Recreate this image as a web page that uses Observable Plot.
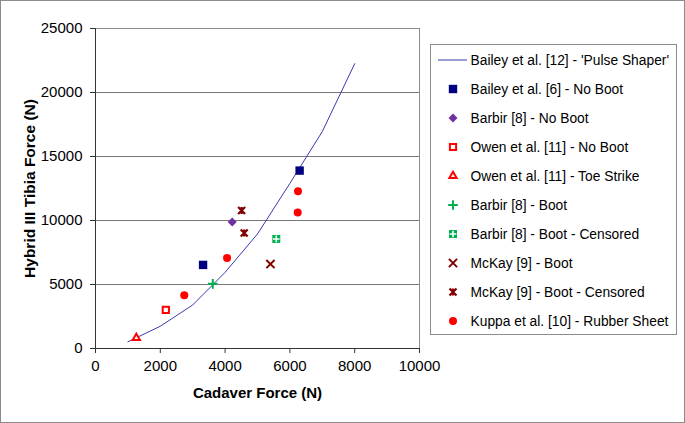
<!DOCTYPE html>
<html>
<head>
<meta charset="utf-8">
<script src="https://cdn.jsdelivr.net/npm/d3@7"></script>
<script src="https://cdn.jsdelivr.net/npm/@observablehq/plot@0.6"></script>
<style>
  html, body { margin: 0; padding: 0; background: #fff; }
  #wrap { position: relative; width: 685px; height: 423px; overflow: hidden; font-family: "Liberation Sans", Arial, sans-serif; }
  #frame { position: absolute; left: 0; top: 0; width: 683px; height: 421px; border: 1px solid #8c8c8c; pointer-events: none; }
  #legend { position: absolute; left: 0; top: 0; }
</style>
</head>
<body>
<div id="wrap"><div id="chart"></div><svg id="legend" width="685" height="423"></svg><div id="frame"></div></div>
<script>
// ---- data ----
const xTicks = [0, 2000, 4000, 6000, 8000, 10000];
const yTicks = [0, 5000, 10000, 15000, 20000, 25000];

const pulseX = [1000, 2000, 3000, 4000, 5000, 6000, 7000, 8000];
const pulseY = [520, 1740, 3400, 5950, 8950, 12900, 16950, 22250];

const baileyNoBootX = [3320, 6300];
const baileyNoBootY = [6530, 13900];
const barbirNoBootX = [4220];
const barbirNoBootY = [9880];
const owenNoBootX = [2170];
const owenNoBootY = [3020];
const owenToeX = [1260];
const owenToeY = [830];
const barbirBootX = [3620];
const barbirBootY = [5050];
const barbirBootCensX = [5580];
const barbirBootCensY = [8560];
const mckayBootX = [5400];
const mckayBootY = [6600];
const mckayBootCensX = [4510, 4590];
const mckayBootCensY = [10780, 9030];
const kuppaX = [2740, 4060, 6250, 6240];
const kuppaY = [4160, 7080, 12290, 10630];

const seriesNames = [
  "Bailey et al. [12] - 'Pulse Shaper'",
  "Bailey et al. [6] - No Boot",
  "Barbir [8] - No Boot",
  "Owen et al. [11] - No Boot",
  "Owen et al. [11] - Toe Strike",
  "Barbir [8] - Boot",
  "Barbir [8] - Boot - Censored",
  "McKay [9] - Boot",
  "McKay [9] - Boot - Censored",
  "Kuppa et al. [10] - Rubber Sheet"
];

// ---- styles ----
const LINE = "#3a3ab0", NAVY = "#000080", PURPLE = "#7030a0", RED = "#ff0000", GREEN = "#00b050", DRED = "#800000";

const zip = (xs, ys) => xs.map((x, i) => ({x, y: ys[i]}));

const starX = {
  draw(ctx, size) {
    const r = Math.sqrt(size) / 2;
    ctx.moveTo(-r, -r); ctx.lineTo(r, r);
    ctx.moveTo(-r, r); ctx.lineTo(r, -r);
    ctx.moveTo(0, -r); ctx.lineTo(0, r);
  }
};
const squareDiamond = {
  draw(ctx, size) {
    const h = Math.sqrt(size / 2);
    ctx.moveTo(0, -h); ctx.lineTo(h, 0); ctx.lineTo(0, h); ctx.lineTo(-h, 0); ctx.closePath();
  }
};

// plot symbol area = PI r^2
const rFor = (side) => Math.sqrt(side * side / Math.PI);

const dotSpecs = [
  {row: 1, data: zip(baileyNoBootX, baileyNoBootY), symbol: "square", fill: NAVY, stroke: "none", r: rFor(8.4)},
  {row: 2, data: zip(barbirNoBootX, barbirNoBootY), symbol: squareDiamond, fill: PURPLE, stroke: "none", r: 3.6},
  {row: 3, data: zip(owenNoBootX, owenNoBootY), symbol: "square", fill: "white", stroke: RED, strokeWidth: 2, r: rFor(6.2)},
  {row: 4, data: zip(owenToeX, owenToeY), symbol: "triangle", fill: "white", stroke: RED, strokeWidth: 2, r: 2.7},
  {row: 5, data: zip(barbirBootX, barbirBootY), symbol: "plus", fill: "none", stroke: GREEN, strokeWidth: 2, r: 3.2},
  {row: 6, data: zip(barbirBootCensX, barbirBootCensY), symbol: "square", fill: GREEN, stroke: "none", r: rFor(8)},
  {row: 6, data: zip(barbirBootCensX, barbirBootCensY), symbol: "plus", fill: "none", stroke: "white", strokeWidth: 1.6, r: 2.3},
  {row: 7, data: zip(mckayBootX, mckayBootY), symbol: "times", fill: "none", stroke: DRED, strokeWidth: 2, r: 3.8},
  {row: 8, data: zip(mckayBootCensX, mckayBootCensY), symbol: starX, fill: "none", stroke: DRED, strokeWidth: 2.2, r: rFor(7)},
  {row: 9, data: zip(kuppaX, kuppaY), symbol: "circle", fill: RED, stroke: "none", r: 4.0}
];

const font = "'Liberation Sans', Arial, sans-serif";

const chart = Plot.plot({
  width: 685, height: 423,
  marginLeft: 95, marginRight: 266, marginTop: 28, marginBottom: 75,
  x: {domain: [0, 10000]},
  y: {domain: [0, 25000]},
  style: {fontFamily: font, fontSize: "15px", color: "#000", background: "transparent", overflow: "visible"},
  marks: [
    Plot.gridY(yTicks, {stroke: "#777", strokeOpacity: 1}),
    Plot.frame({stroke: "#8c8c8c"}),
    Plot.ruleY([0], {stroke: "#333"}),
    Plot.ruleX([0], {stroke: "#333"}),
    Plot.axisX(xTicks, {tickSize: 5, tickPadding: 7, label: null, fontSize: 15, stroke: "#333", tickFormat: d => String(d)}),
    Plot.axisY(yTicks, {tickSize: 5, tickPadding: 8, label: null, fontSize: 15, stroke: "#333", tickFormat: d => String(d)}),
    Plot.line(zip(pulseX, pulseY), {x: "x", y: "y", stroke: LINE, strokeWidth: 1}),
    ...dotSpecs.map(s => Plot.dot(s.data, {x: "x", y: "y", symbol: s.symbol, fill: s.fill, stroke: s.stroke, strokeWidth: s.strokeWidth || 1, r: s.r})),
    Plot.text(["Cadaver Force (N)"], {text: d => d, frameAnchor: "bottom", dy: 49.5, fontWeight: "bold", fontSize: 15, fill: "#000"}),
    Plot.text(["Hybrid III Tibia Force (N)"], {text: d => d, frameAnchor: "left", textAnchor: "middle", dx: -65, rotate: -90, fontWeight: "bold", fontSize: 15.5, fill: "#000"})
  ]
});
document.getElementById("chart").appendChild(chart);

// ---- legend ----
const lg = d3.select("#legend");
lg.append("rect").attr("x", 430.5).attr("y", 44.5).attr("width", 246).attr("height", 290)
  .attr("fill", "white").attr("stroke", "#8c8c8c");
const rowY0 = 60, rowStep = 29.0, symX = 453, textX = 470.5;
const symTypes = {square: d3.symbolSquare, triangle: d3.symbolTriangle, plus: d3.symbolPlus, times: d3.symbolTimes, circle: d3.symbolCircle};
seriesNames.forEach((name, i) => {
  const y = rowY0 + i * rowStep;
  const g = lg.append("g");
  if (i === 0) {
    g.append("line").attr("x1", 438).attr("x2", 467).attr("y1", y).attr("y2", y).attr("stroke", LINE).attr("stroke-width", 1);
  } else {
    dotSpecs.filter(s => s.row === i).forEach(s => {
      const type = typeof s.symbol === "object" ? s.symbol : symTypes[s.symbol];
      g.append("path")
        .attr("transform", `translate(${symX},${y})`)
        .attr("d", d3.symbol(type, Math.PI * s.r * s.r)())
        .attr("fill", s.fill).attr("stroke", s.stroke).attr("stroke-width", s.strokeWidth || 1);
    });
  }
  g.append("text").attr("x", textX).attr("y", y).attr("dy", "0.35em")
    .attr("font-family", font).attr("font-size", 13.8).attr("fill", "#000").text(name);
});
</script>
</body>
</html>
